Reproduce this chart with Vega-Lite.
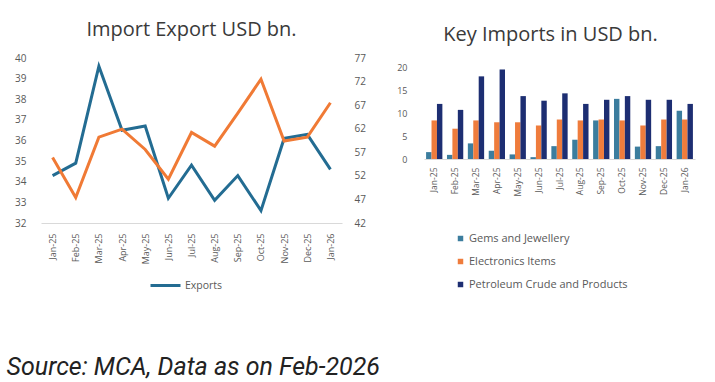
{
  "$schema": "https://vega.github.io/schema/vega-lite/v6.json",
  "padding": {"top": 20, "left": 6, "right": 5, "bottom": 5},
  "background": "white",
  "config": {
    "view": {"stroke": null},
    "font": "Open Sans",
    "axis": {"grid": false, "ticks": false, "labelColor": "#595959", "titleColor": "#595959"}
  },
  "resolve": {"scale": {"color": "independent"}, "legend": {"color": "independent"}},
  "datasets": {
    "trade": [
      {"month": "Jan-25", "Exports": 34.3, "Imports": 55.9},
      {"month": "Feb-25", "Exports": 34.9, "Imports": 47.4},
      {"month": "Mar-25", "Exports": 39.6, "Imports": 60.2},
      {"month": "Apr-25", "Exports": 36.5, "Imports": 61.9},
      {"month": "May-25", "Exports": 36.7, "Imports": 57.6},
      {"month": "Jun-25", "Exports": 33.2, "Imports": 51.3},
      {"month": "Jul-25", "Exports": 34.8, "Imports": 61.2},
      {"month": "Aug-25", "Exports": 33.1, "Imports": 58.3},
      {"month": "Sep-25", "Exports": 34.3, "Imports": 65.3},
      {"month": "Oct-25", "Exports": 32.6, "Imports": 72.5},
      {"month": "Nov-25", "Exports": 36.1, "Imports": 59.4},
      {"month": "Dec-25", "Exports": 36.3, "Imports": 60.2},
      {"month": "Jan-26", "Exports": 34.6, "Imports": 67.5}
    ],
    "keyimports": [
      {"month": "Jan-25", "category": "Gems and Jewellery", "value": 1.5},
      {"month": "Jan-25", "category": "Electronics Items", "value": 8.4},
      {"month": "Jan-25", "category": "Petroleum Crude and Products", "value": 12.0},
      {"month": "Feb-25", "category": "Gems and Jewellery", "value": 0.9},
      {"month": "Feb-25", "category": "Electronics Items", "value": 6.6},
      {"month": "Feb-25", "category": "Petroleum Crude and Products", "value": 10.7},
      {"month": "Mar-25", "category": "Gems and Jewellery", "value": 3.4},
      {"month": "Mar-25", "category": "Electronics Items", "value": 8.4},
      {"month": "Mar-25", "category": "Petroleum Crude and Products", "value": 18.0},
      {"month": "Apr-25", "category": "Gems and Jewellery", "value": 1.8},
      {"month": "Apr-25", "category": "Electronics Items", "value": 8.0},
      {"month": "Apr-25", "category": "Petroleum Crude and Products", "value": 19.5},
      {"month": "May-25", "category": "Gems and Jewellery", "value": 1.0},
      {"month": "May-25", "category": "Electronics Items", "value": 8.0},
      {"month": "May-25", "category": "Petroleum Crude and Products", "value": 13.7},
      {"month": "Jun-25", "category": "Gems and Jewellery", "value": 0.4},
      {"month": "Jun-25", "category": "Electronics Items", "value": 7.3},
      {"month": "Jun-25", "category": "Petroleum Crude and Products", "value": 12.7},
      {"month": "Jul-25", "category": "Gems and Jewellery", "value": 2.8},
      {"month": "Jul-25", "category": "Electronics Items", "value": 8.6},
      {"month": "Jul-25", "category": "Petroleum Crude and Products", "value": 14.3},
      {"month": "Aug-25", "category": "Gems and Jewellery", "value": 4.2},
      {"month": "Aug-25", "category": "Electronics Items", "value": 8.4},
      {"month": "Aug-25", "category": "Petroleum Crude and Products", "value": 12.0},
      {"month": "Sep-25", "category": "Gems and Jewellery", "value": 8.4},
      {"month": "Sep-25", "category": "Electronics Items", "value": 8.6},
      {"month": "Sep-25", "category": "Petroleum Crude and Products", "value": 12.9},
      {"month": "Oct-25", "category": "Gems and Jewellery", "value": 13.1},
      {"month": "Oct-25", "category": "Electronics Items", "value": 8.4},
      {"month": "Oct-25", "category": "Petroleum Crude and Products", "value": 13.7},
      {"month": "Nov-25", "category": "Gems and Jewellery", "value": 2.7},
      {"month": "Nov-25", "category": "Electronics Items", "value": 7.3},
      {"month": "Nov-25", "category": "Petroleum Crude and Products", "value": 12.9},
      {"month": "Dec-25", "category": "Gems and Jewellery", "value": 2.8},
      {"month": "Dec-25", "category": "Electronics Items", "value": 8.6},
      {"month": "Dec-25", "category": "Petroleum Crude and Products", "value": 12.9},
      {"month": "Jan-26", "category": "Gems and Jewellery", "value": 10.5},
      {"month": "Jan-26", "category": "Electronics Items", "value": 8.6},
      {"month": "Jan-26", "category": "Petroleum Crude and Products", "value": 12.0}
    ]
  },
  "title": {
    "text": "Source: MCA, Data as on Feb-2026",
    "orient": "bottom",
    "anchor": "start",
    "font": "Liberation Sans Narrow, Roboto",
    "fontStyle": "italic",
    "fontWeight": "normal",
    "fontSize": 25,
    "color": "#222222",
    "offset": 63,
    "dx": -8
  },
  "hconcat": [
    {
      "width": 301,
      "height": 165,
      "title": {"text": "Import Export USD bn.", "fontSize": 20, "fontWeight": "normal", "color": "#3a3a3a", "offset": 13},
      "data": {"name": "trade"},
      "encoding": {
        "x": {
          "field": "month", "type": "ordinal", "sort": null,
          "scale": {"type": "point", "padding": 0.5},
          "axis": {"title": null, "labelAngle": -90, "labelFontSize": 9, "labelPadding": 10, "domainColor": "#d9d9d9"}
        }
      },
      "layer": [
        {
          "mark": {"type": "line", "strokeWidth": 3},
          "encoding": {
            "y": {
              "field": "Exports", "type": "quantitative",
              "scale": {"domain": [32, 40]},
              "axis": {"title": null, "orient": "left", "values": [32, 33, 34, 35, 36, 37, 38, 39, 40], "domain": false, "labelFontSize": 10, "labelPadding": 15}
            },
            "color": {
              "datum": "Exports",
              "scale": {"domain": ["Exports", "Imports"], "range": ["#236c92", "#f07a35"]},
              "legend": {
                "orient": "none", "legendX": 108, "legendY": 211, "direction": "horizontal",
                "values": ["Exports"], "title": null,
                "symbolType": "stroke", "symbolSize": 900, "symbolStrokeWidth": 3,
                "labelFontSize": 10.5, "labelColor": "#595959", "labelOffset": 3
              }
            }
          }
        },
        {
          "mark": {"type": "line", "strokeWidth": 3},
          "encoding": {
            "y": {
              "field": "Imports", "type": "quantitative",
              "scale": {"domain": [42, 77]},
              "axis": {"title": null, "orient": "right", "values": [42, 47, 52, 57, 62, 67, 72, 77], "domain": false, "labelFontSize": 10, "labelPadding": 12}
            },
            "color": {"datum": "Imports"}
          }
        }
      ],
      "resolve": {"scale": {"y": "independent"}}
    },
    {
      "width": 271,
      "height": 101,
      "title": {"text": "Key Imports in USD bn.", "fontSize": 20, "fontWeight": "normal", "color": "#3a3a3a", "offset": 13, "dx": -9},
      "data": {"name": "keyimports"},
      "mark": {"type": "bar"},
      "encoding": {
        "x": {
          "field": "month", "type": "ordinal", "sort": null,
          "scale": {"paddingInner": 0.22, "paddingOuter": 0.1},
          "axis": {"title": null, "labelAngle": -90, "labelFontSize": 8.5, "labelPadding": 8, "domainColor": "#d9d9d9"}
        },
        "xOffset": {"field": "category", "type": "nominal", "sort": ["Gems and Jewellery", "Electronics Items", "Petroleum Crude and Products"]},
        "y": {
          "field": "value", "type": "quantitative",
          "scale": {"domain": [0, 22], "nice": false},
          "axis": {"title": null, "values": [0, 5, 10, 15, 20], "domain": false, "labelFontSize": 9, "labelPadding": 17}
        },
        "color": {
          "field": "category", "type": "nominal",
          "scale": {"domain": ["Gems and Jewellery", "Electronics Items", "Petroleum Crude and Products"], "range": ["#3b7d9e", "#ef7c3c", "#1d2e72"]},
          "legend": {
            "orient": "none", "legendX": 31, "legendY": 175, "direction": "vertical", "title": null,
            "symbolType": "square", "symbolSize": 30, "labelFontSize": 11, "labelColor": "#595959",
            "rowPadding": 11, "labelOffset": 3
          }
        }
      }
    }
  ],
  "spacing": 30
}
